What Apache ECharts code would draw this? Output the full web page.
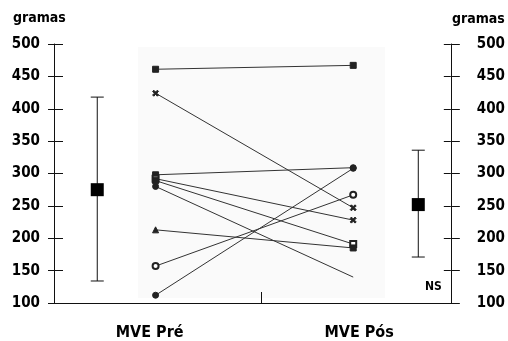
<!DOCTYPE html>
<html>
<head>
<meta charset="utf-8">
<script src="https://cdn.jsdelivr.net/npm/echarts@6/dist/echarts.min.js"></script>
<style>
    html, body { margin: 0; padding: 0; background: #fff; }
    #chart { width: 508px; height: 341px; }
</style>
</head>
<body>
<div id="chart"></div>
<script>
    // dados (gramas)
    var groups = ['MVE Pré', 'MVE Pós'];
    var yTicks = [100, 150, 200, 250, 300, 350, 400, 450, 500];
    var preValues  = [461, 424, 298, 292, 289, 280, 213, 157, 112];
    var postValues = [467, 247, 309, 228, 191, 140, 185, 267, 308];
    // média e intervalo (baixo, média, alto)
    var preStats  = [134, 275, 418];
    var postStats = [171, 252, 336];
    var sigLabel = 'NS';

    // simbolos de cada linha
    var xPath = 'path://M0,2L2,0L5,3L8,0L10,2L7,5L10,8L8,10L5,7L2,10L0,8L3,5Z';
    var preSymbols  = ['rect', xPath, 'rect', 'emptyRect', 'rect', 'circle', 'triangle', 'emptyCircle', 'circle'];
    var postSymbols = ['rect', xPath, 'circle', xPath, 'emptyRect', 'none', 'rect', 'emptyCircle', 'circle'];

    // posicao horizontal (eixo 0..100)
    var pos = { errPre: 10.9, pre: 25.6, mid: 52.2, post: 75.4, errPos: 91.8, lblPre: 24.1, lblPos: 76.9 };

    var font = "'Liberation Sans Narrow', 'DejaVu Sans Condensed', 'Arial Narrow', sans-serif";
    var ink = '#111';

    var series = [];
    for (var i = 0; i < preValues.length; i++) {
        series.push({
            type: 'line',
            silent: true,
            data: [
                { value: [pos.pre, preValues[i]], symbol: preSymbols[i] },
                { value: [pos.post, postValues[i]], symbol: postSymbols[i] }
            ],
            symbolSize: 6,
            showAllSymbol: true,
            lineStyle: { color: '#333', width: 1 },
            itemStyle: { color: '#222', borderColor: '#222', borderWidth: 1 },
            z: 3
        });
    }

    function errorBar(params, api) {
        var x = api.value(0);
        var lo = api.coord([x, api.value(1)]);
        var mid = api.coord([x, api.value(2)]);
        var hi = api.coord([x, api.value(3)]);
        var cap = 6.5, sq = 13;
        var st = { stroke: ink, lineWidth: 1 };
        return {
            type: 'group',
            children: [
                { type: 'line', shape: { x1: lo[0], y1: lo[1], x2: hi[0], y2: hi[1] }, style: st },
                { type: 'line', shape: { x1: hi[0] - cap, y1: hi[1], x2: hi[0] + cap, y2: hi[1] }, style: st },
                { type: 'line', shape: { x1: lo[0] - cap, y1: lo[1], x2: lo[0] + cap, y2: lo[1] }, style: st },
                { type: 'rect', shape: { x: mid[0] - sq / 2, y: mid[1] - sq / 2, width: sq, height: sq }, style: { fill: '#000' } }
            ]
        };
    }

    series.push({
        type: 'custom',
        silent: true,
        renderItem: errorBar,
        data: [
            [pos.errPre].concat(preStats),
            [pos.errPos].concat(postStats)
        ],
        z: 4
    });

    var yBase = {
        type: 'value',
        min: yTicks[0],
        max: yTicks[yTicks.length - 1],
        interval: 50,
        splitLine: { show: false }
    };

    var chart = echarts.init(document.getElementById('chart'));
    chart.setOption({
        animation: false,
        backgroundColor: '#fff',
        grid: { left: 54, right: 52, top: 44, bottom: 38 },
        xAxis: {
            type: 'value',
            min: 0,
            max: 100,
            splitLine: { show: false },
            axisLine: { lineStyle: { color: ink, width: 1 } },
            axisTick: { customValues: [pos.mid], inside: true, length: 11, lineStyle: { color: ink } },
            axisLabel: {
                customValues: [pos.lblPre, pos.lblPos],
                formatter: function (v) { return v < 50 ? groups[0] : groups[1]; },
                margin: 22,
                color: '#000',
                fontFamily: font,
                fontWeight: 'bold',
                fontSize: 16
            }
        },
        yAxis: [
            Object.assign({}, yBase, {
                position: 'left',
                axisLine: { show: true, lineStyle: { color: ink } },
                axisTick: { show: true, length: 6, lineStyle: { color: ink } },
                axisLabel: { margin: 14, color: '#000', fontFamily: font, fontWeight: 'bold', fontSize: 15 }
            }),
            Object.assign({}, yBase, {
                position: 'left',
                axisLine: { show: false },
                axisTick: { show: true, inside: true, length: 9, lineStyle: { color: ink } },
                axisLabel: { show: false }
            }),
            Object.assign({}, yBase, {
                position: 'right',
                axisLine: { show: true, lineStyle: { color: ink } },
                axisTick: { show: true, length: 9, lineStyle: { color: ink } },
                axisLabel: { margin: 26, color: '#000', fontFamily: font, fontWeight: 'bold', fontSize: 15 }
            }),
            Object.assign({}, yBase, {
                position: 'right',
                axisLine: { show: false },
                axisTick: { show: true, inside: true, length: 7, lineStyle: { color: ink } },
                axisLabel: { show: false }
            })
        ],
        graphic: [
            { type: 'rect', z: 0, silent: true, shape: { x: 138, y: 47, width: 247, height: 251 }, style: { fill: '#fafafa' } },
            { type: 'text', left: 13, top: 11, style: { text: 'gramas', fill: '#000', font: 'bold 14px ' + font } },
            { type: 'text', left: 452, top: 12, style: { text: 'gramas', fill: '#000', font: 'bold 14px ' + font } },
            { type: 'text', left: 425, top: 281, style: { text: sigLabel, fill: '#000', font: 'bold 12px ' + font } }
        ],
        series: series
    });
</script>
</body>
</html>
